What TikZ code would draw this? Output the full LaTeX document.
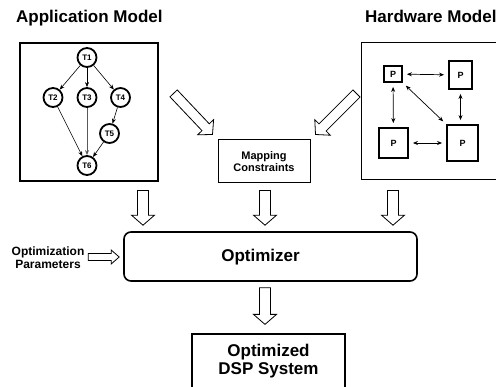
\documentclass[tikz,border=0pt]{standalone}
\usepackage{fontspec}
\setmainfont{Liberation Sans}
\usetikzlibrary{arrows.meta,calc}

% wide outlined arrow: from, to, half shaft, half head, head length
\newcommand{\fatarrow}[5]{%
  \coordinate (fa-s) at (#1);
  \coordinate (fa-e) at (#2);
  \coordinate (fa-m) at ($(fa-e)!#5pt!(fa-s)$);
  \draw[hollow] ($(fa-s)!#3pt!90:(fa-e)$) -- ($(fa-m)!#3pt!-90:(fa-s)$)
    -- ($(fa-m)!#4pt!-90:(fa-s)$) -- (fa-e)
    -- ($(fa-m)!#4pt!90:(fa-s)$) -- ($(fa-m)!#3pt!90:(fa-s)$)
    -- ($(fa-s)!#3pt!-90:(fa-e)$) -- cycle;}

\tikzset{
  panel/.style={draw, line width=1pt, inner sep=0pt},
  heading/.style={font=\bfseries\fontsize{17}{20}\selectfont, anchor=base west, inner sep=0pt},
  task/.style={draw, circle, line width=1.8pt, minimum size=19pt, inner sep=0pt,
    font=\bfseries\fontsize{8}{9}\selectfont},
  proc/.style={draw, line width=1.8pt, inner sep=0pt, font=\bfseries\fontsize{9}{10}\selectfont},
  dep/.style={-{Stealth[length=5pt,width=4pt]}, line width=0.6pt},
  link/.style={{Stealth[length=5pt,width=4pt]}-{Stealth[length=5pt,width=4pt]},
    line width=0.7pt, shorten <=4pt, shorten >=4pt},
  hollow/.style={draw, fill=white, line width=0.8pt, line join=miter},
}

\begin{document}
\begin{tikzpicture}[x=1pt, y=-1pt]
  \useasboundingbox (0,0) rectangle (496,387);
  % headings
  \node[heading] (apptitle) at (16,22.7) {Application Model};
  \node[heading] (hwtitle) at (365,22.7) {Hardware Model};
  % application model (task graph)
  \node[panel, line width=1.2pt, minimum width=138pt, minimum height=138pt] (app) at (89,112) {};
  \node[task] (t1) at (87,57.5) {T1};
  \node[task] (t2) at (53,97.5) {T2};
  \node[task] (t3) at (87,97.5) {T3};
  \node[task] (t4) at (120.5,97.5) {T4};
  \node[task] (t5) at (109.5,133.5) {T5};
  \node[task] (t6) at (87,165.5) {T6};
  \draw[dep] (t1) -- (t2);
  \draw[dep] (t1) -- (t3);
  \draw[dep] (t1) -- (t4);
  \draw[dep] (t4) -- (t5);
  \draw[dep] (t2) -- (t6);
  \draw[dep, line width=1pt, gray!70!black] (t3) -- (t6);
  \draw[dep] (t5) -- (t6);
  % hardware model (processors)
  \node[panel, minimum width=140pt, minimum height=137pt] (hw) at (431,111.5) {};
  \node[proc, minimum width=18pt, minimum height=16pt] (p1) at (393,74) {P};
  \node[proc, minimum width=23pt, minimum height=28pt] (p2) at (460.5,75) {P};
  \node[proc, minimum width=29pt, minimum height=30pt] (p3) at (393.5,143) {P};
  \node[proc, minimum width=31pt, minimum height=36pt] (p4) at (462.5,143) {P};
  \draw[link] (p1) -- (p2);
  \draw[link] (p1) -- (p3);
  \draw[link] (p1.south east) -- (p4.north west);
  \draw[link] (p2.south) -- (p2.south |- p4.north);
  \draw[link] (p3) -- (p4);
  % mapping constraints, optimizer and its result
  \node[panel, minimum width=92pt, minimum height=43pt, align=center,
    font=\bfseries\fontsize{11}{12.5}\selectfont] (map) at (264,161.5) {Mapping\\Constraints};
  \node[panel, line width=1.6pt, rounded corners=7pt, minimum width=293pt, minimum height=49pt] (opt) at (270.5,256.5) {};
  \node[font=\bfseries\fontsize{17}{20}\selectfont] (optlabel) at (260.5,257) {Optimizer};
  \node[align=center, font=\bfseries\fontsize{12}{13}\selectfont] (params) at (48,257.5) {Optimization\\Parameters};
  \node[panel, line width=1.2pt, minimum width=153pt, minimum height=55pt, align=center,
    font=\bfseries\fontsize{17}{18}\selectfont] (dsp) at (268.5,361.5) {Optimized\\DSP System};
  % outlined arrows
  \fatarrow{$(app.north east)+(15,51)$}{$(map.north west)+(-5,-5)$}{5}{11}{10}
  \fatarrow{$(hw.north west)+(-4,51)$}{$(map.north east)+(5,-5)$}{5}{11}{10}
  \fatarrow{$(app.south)+(54,9)$}{$(opt.north)+(-127.5,-6)$}{5.5}{11.5}{10}
  \fatarrow{$(map.south)+(1,7)$}{$(opt.north)+(-5.5,-6)$}{5.5}{11.5}{10}
  \fatarrow{$(hw.south)+(-38,10)$}{$(opt.north)+(122.5,-6)$}{5.5}{11.5}{10}
  \fatarrow{$(opt.west)+(-35,0.5)$}{$(opt.west)+(-4,0.5)$}{3.5}{7}{8}
  \fatarrow{$(opt.south)+(-5.5,6)$}{$(dsp.north)+(-3.5,-9)$}{5.5}{11.5}{10}
\end{tikzpicture}
\end{document}
